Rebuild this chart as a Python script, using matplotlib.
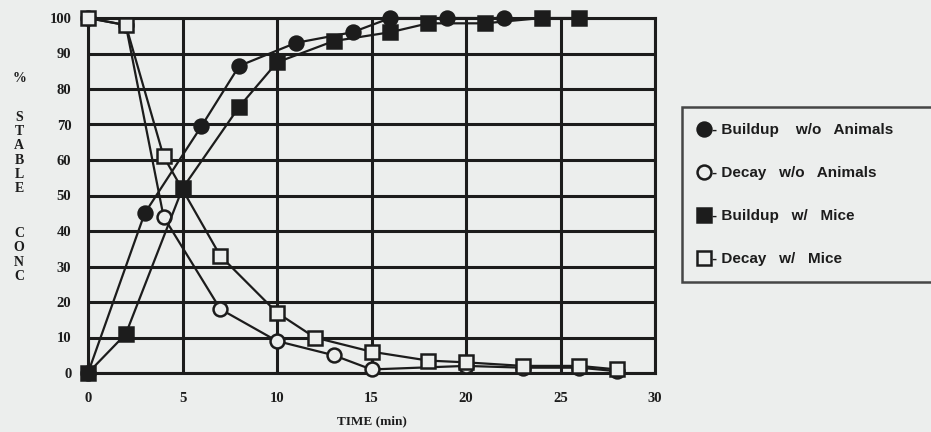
import numpy as np
import matplotlib.pyplot as plt

# time (min) and % stable concentration for each run
t_build_air = [0, 3, 6, 8, 11, 14, 16, 19, 22]
c_build_air = [0, 45, 69.5, 86.5, 93, 96, 100, 100, 100]

t_decay_air = [0, 2, 4, 7, 10, 13, 15, 20, 23, 26, 28]
c_decay_air = [100, 98, 44, 18, 9, 5, 1, 2, 1.5, 1.5, 0.5]

t_build_mice = [0, 2, 5, 8, 10, 13, 16, 18, 21, 24, 26]
c_build_mice = [0, 11, 52, 75, 87.5, 93.5, 96, 98.5, 98.5, 100, 100]

t_decay_mice = [0, 2, 4, 7, 10, 12, 15, 18, 20, 23, 26, 28]
c_decay_mice = [100, 98, 61, 33, 17, 10, 6, 3.5, 3, 2, 2, 1]

labels = ["- Buildup    w/o   Animals", "- Decay   w/o   Animals",
          "- Buildup   w/   Mice", "- Decay   w/   Mice"]

x_ticks = [0, 5, 10, 15, 20, 25, 30]
y_ticks = [0, 10, 20, 30, 40, 50, 60, 70, 80, 90, 100]

bg = '#eceeed'
ink = '#1c1c1c'

fig = plt.figure(figsize=(9.31, 4.32), dpi=100, facecolor=bg)
ax = fig.add_axes([88/931, 1 - 373/432, (655 - 88)/931, (373 - 18)/432])
ax.set_facecolor(bg)

common = dict(color=ink, lw=1.6, ms=10, mew=1.8, clip_on=False, zorder=3)
ax.plot(t_build_air, c_build_air, marker='o', mfc=ink, mec=ink, label=labels[0], **common)
ax.plot(t_decay_air, c_decay_air, marker='o', mfc=bg, mec=ink, label=labels[1], **common)
ax.plot(t_build_mice, c_build_mice, marker='s', mfc=ink, mec=ink, label=labels[2], **common)
ax.plot(t_decay_mice, c_decay_mice, marker='s', mfc=bg, mec=ink, label=labels[3], **common)

ax.set_xlim(0, 30)
ax.set_ylim(0, 100)
ax.set_xticks(x_ticks)
ax.set_yticks(y_ticks)
ax.grid(True, color=ink, lw=2.2, zorder=1)
ax.set_axisbelow(True)
for s in ax.spines.values():
    s.set_color(ink)
    s.set_linewidth(2.2)
ax.tick_params(length=0, labelsize=10.5, colors=ink)
ax.tick_params(axis='x', pad=14)
ax.tick_params(axis='y', pad=12)
for lab in ax.get_xticklabels() + ax.get_yticklabels():
    lab.set_fontfamily('Liberation Serif')
    lab.set_fontweight('bold')

ax.set_xlabel('TIME (min)', fontfamily='Liberation Serif', fontweight='bold',
              fontsize=9.5, color=ink, labelpad=7)

# stacked axis title
ylab = dict(ha='center', va='center', fontfamily='Liberation Serif', fontweight='bold',
            fontsize=10, linespacing=1.12, color=ink)
fig.text(19/931, 1 - 79/432, "%", **ylab)
fig.text(19/931, 1 - 153/432, "S\nT\nA\nB\nL\nE", **ylab)
fig.text(19/931, 1 - 255/432, "C\nO\nN\nC", **ylab)

leg = ax.legend(loc='upper left', bbox_to_anchor=(682/931, 1 - 279/432, 260/931, (279 - 107)/432),
                bbox_transform=fig.transFigure, mode='expand', frameon=True, fancybox=False,
                handlelength=0.8, handletextpad=0.1, labelspacing=1.9, borderpad=1.05,
                borderaxespad=0, prop={'family': 'Liberation Sans', 'size': 11, 'weight': 'bold'})
leg.get_frame().set_edgecolor(ink)
leg.get_frame().set_linewidth(1.8)
leg.get_frame().set_facecolor(bg)
for h in leg.legend_handles:
    h.set_linestyle('none')
for txt in leg.get_texts():
    txt.set_color(ink)

fig.savefig('out.png', dpi=100, facecolor=bg)
